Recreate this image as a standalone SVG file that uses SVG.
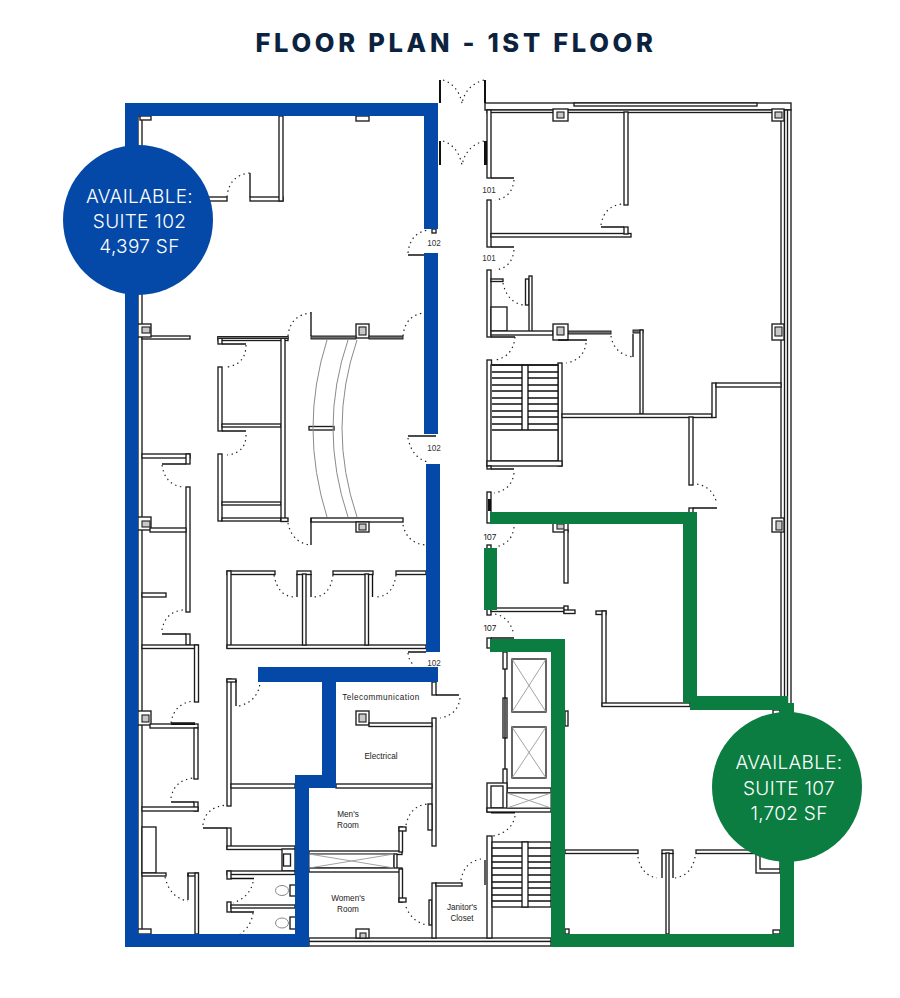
<svg xmlns="http://www.w3.org/2000/svg" width="900" height="998" viewBox="0 0 900 998">
<style>
.w rect{fill:#fff;stroke:#1c1c1c;stroke-width:1.35}
.w rect.i{fill:#c8c8c8;stroke-width:1.1}
.g rect{fill:#6e6e6e;stroke:#222;stroke-width:1}
.l{fill:none;stroke:#111;stroke-width:1.35}
.x{fill:none;stroke:#999;stroke-width:.9}
.c{fill:none;stroke:#8a8a8a;stroke-width:1}
.d{fill:none;stroke:#222;stroke-width:1.2;stroke-dasharray:1.4 3.6}
.k{fill:#111}
.s{fill:#c8c8c8;stroke:#222;stroke-width:1}
.t{font-family:"Liberation Sans",Arial,sans-serif;font-size:8.2px;fill:#333;text-anchor:middle}
.m{fill:#222}
.b{font-family:Inter,"Liberation Sans",sans-serif;font-size:19px;fill:#fff;text-anchor:middle;font-weight:300;letter-spacing:.3px}
.blue{fill:#0549a8}.green{fill:#0b7d41}
</style>
<rect width="900" height="998" fill="#fff"/>
<text x="456" y="52" style="font-family:Inter,'Liberation Sans',sans-serif;font-size:25.5px;font-weight:800;letter-spacing:3.7px;fill:#0c2340;text-anchor:middle">FLOOR PLAN - 1ST FLOOR</text>

<g id="walls-left" class="w">
<rect x="138" y="116" width="4" height="818"/>
<rect x="140" y="116" width="11" height="4"/>
<rect x="208" y="197" width="19" height="4"/>
<rect x="250" y="197" width="33" height="4"/>
<rect x="279" y="116" width="4" height="85"/>
<rect x="356" y="116" width="13" height="5"/>
<rect x="432" y="229" width="4" height="4"/>
<rect x="142" y="336" width="48" height="3"/>
<rect x="138" y="324" width="13" height="13"/>
<rect x="218" y="337" width="70" height="3.500"/>
<rect x="218" y="337" width="4" height="7"/>
<rect x="218" y="367" width="4" height="64"/>
<rect x="218" y="454" width="4" height="67"/>
<rect x="222" y="424" width="59" height="3"/>
<rect x="222" y="502" width="59" height="3"/>
<rect x="222" y="518" width="59" height="3"/>
<rect x="281" y="338" width="4" height="183"/>
<rect x="281" y="518" width="7" height="3.500"/>
<rect x="311" y="518" width="92" height="4"/>
<rect x="356" y="522" width="13" height="10"/>
<rect x="356" y="324" width="13" height="14"/>
<rect x="309" y="426.500" width="25" height="3.500"/>
<rect x="142" y="454" width="48" height="4"/>
<rect x="186" y="454" width="4" height="10"/>
<rect x="186" y="487" width="4" height="125"/>
<rect x="138" y="517" width="13" height="13"/>
<rect x="150" y="528" width="36" height="4"/>
<rect x="142" y="593" width="24" height="4"/>
<rect x="186" y="634" width="4" height="11"/>
<rect x="142" y="645" width="56" height="3.500"/>
<rect x="194.500" y="645" width="4" height="57"/>
<rect x="227" y="571" width="48" height="3.500"/>
<rect x="297" y="571" width="14" height="3.500"/>
<rect x="333" y="571" width="40" height="3.500"/>
<rect x="396" y="571" width="30" height="3.500"/>
<rect x="227" y="571" width="4" height="77"/>
<rect x="227" y="645" width="199" height="3.500"/>
<rect x="302.500" y="574" width="3.500" height="71"/>
<rect x="365" y="574" width="3.500" height="71"/>
<rect x="138" y="711" width="13" height="14"/>
<rect x="150" y="724" width="48" height="4"/>
<rect x="194" y="728" width="4" height="51"/>
<rect x="194" y="802" width="4" height="9"/>
<rect x="142" y="807" width="56" height="4"/>
<rect x="142" y="827" width="14" height="46"/>
<rect x="142" y="873" width="24" height="3"/>
<rect x="188" y="873" width="10" height="3"/>
<rect x="195" y="873" width="3.500" height="61"/>
<rect x="138" y="929" width="13" height="5"/>
<rect x="227" y="679" width="4" height="127"/>
<rect x="227" y="679" width="9" height="3"/>
<rect x="231" y="784" width="64" height="4"/>
<rect x="227" y="828" width="4" height="21"/>
<rect x="227" y="846" width="68" height="3.500"/>
<rect x="282" y="849" width="13" height="22"/>
<rect x="283.500" y="854" width="7" height="12"/>
<rect x="227" y="871" width="68" height="3.500"/>
<rect x="227" y="871" width="4" height="8"/>
<rect x="227" y="902" width="4" height="10"/>
<rect x="231" y="905" width="64" height="3"/>
<rect x="290" y="885" width="6" height="11"/>
<rect x="290" y="917" width="6" height="12"/>
<rect x="432" y="682" width="4" height="13"/>
<rect x="432" y="718" width="4" height="128"/>
<rect x="356" y="711" width="13" height="14"/>
<rect x="369" y="723" width="63" height="3.500"/>
<rect x="336" y="784" width="96" height="4"/>
<rect x="309" y="851" width="93" height="3.500"/>
<rect x="399" y="827" width="3.500" height="25"/>
<rect x="399" y="827" width="7" height="4"/>
<rect x="428" y="804" width="4" height="26"/>
<rect x="309" y="854" width="85" height="14" style="stroke-width:1"/>
<rect x="394" y="854" width="3" height="15"/>
<rect x="309" y="868" width="93" height="4"/>
<rect x="399" y="869" width="3.500" height="33"/>
<rect x="399" y="898" width="7" height="4"/>
<rect x="429" y="900" width="3" height="25"/>
<rect x="309" y="938" width="242" height="3.500"/>
<rect x="309" y="941.500" width="242" height="4.500"/>
<rect x="356" y="929" width="13" height="9"/>
<rect x="432" y="883" width="4" height="55"/>
<rect x="436" y="883" width="26" height="3"/>
<rect x="487" y="836" width="5" height="102"/>
<rect class="i" x="142" y="327" width="8" height="6"/><rect class="i" x="359" y="327" width="7" height="8"/>
<rect class="i" x="359" y="524" width="7" height="6"/>
<rect class="i" x="142" y="521" width="8" height="6"/><rect class="i" x="142" y="715" width="7" height="7"/>
<rect class="i" x="359" y="714" width="7" height="8"/><rect class="i" x="360" y="933" width="6" height="5"/>
</g>
<g id="walls-grey" class="g">
<rect x="311" y="336" width="45" height="3"/>
<rect x="369" y="336" width="34" height="3"/>
<rect x="218" y="336.500" width="70" height="2"/>
<rect x="568" y="331" width="43" height="3"/>
<rect x="633" y="330" width="10" height="3"/>
</g>
<g id="walls-right" class="w">
<rect x="485" y="103" width="306" height="7"/>
<rect x="574" y="103" width="183" height="3"/>
<rect x="487" y="110" width="297" height="2.500"/>
<rect x="781" y="110" width="10" height="594"/>
<rect x="784.500" y="110" width="3" height="594"/>
<rect x="553" y="109" width="15" height="12"/>
<rect x="772" y="109" width="12" height="12"/>
<rect class="i" x="557" y="112" width="7" height="6"/>
<rect class="i" x="775" y="112" width="7" height="6"/>
<rect x="487" y="110" width="4" height="68"/>
<rect x="624" y="112" width="4" height="93"/>
<rect x="487" y="200" width="4" height="47"/>
<rect x="491" y="233.500" width="140" height="3.500"/>
<rect x="624" y="227" width="4" height="7"/>
<rect x="487" y="270" width="4" height="67"/>
<rect x="491" y="279" width="12" height="2.500"/>
<rect x="525.500" y="279" width="3.500" height="26"/>
<rect x="529" y="276" width="3" height="56"/>
<rect x="491" y="307" width="16" height="24"/>
<rect x="491" y="331" width="62" height="4"/>
<rect x="553" y="324" width="15" height="16"/>
<rect class="i" x="557" y="327" width="7" height="8"/>
<rect x="640" y="330" width="3" height="84"/>
<rect x="772" y="324" width="12" height="16"/>
<rect class="i" x="775" y="327" width="7" height="9"/>
<rect x="487" y="360" width="4.500" height="106"/>
<rect x="558" y="363" width="4" height="103"/>
<rect x="491" y="365" width="67" height="96"/>
<rect x="487" y="461" width="75" height="5"/>
<rect x="487" y="466" width="4" height="3"/>
<rect x="562" y="414" width="150" height="3.500"/>
<rect x="712" y="383" width="4" height="34.500"/>
<rect x="716" y="383" width="65" height="4"/>
<rect x="689" y="417" width="4" height="68"/>
<rect x="689" y="508" width="4" height="5"/>
<rect x="487" y="492" width="4" height="31"/>
<rect x="772" y="518" width="12" height="14"/>
<rect class="i" x="776" y="521" width="6" height="9"/>
<rect x="553" y="522" width="15" height="10"/>
<rect x="564" y="530" width="4" height="53"/>
<rect class="i" x="557" y="524" width="7" height="5"/>
<rect x="487" y="545" width="4" height="4"/>
<rect x="487" y="609" width="4" height="6"/>
<rect x="491" y="608" width="74" height="3.500"/>
<rect x="564" y="606" width="4" height="7"/>
<rect x="564" y="610" width="11" height="3.500"/>
<rect x="596" y="611" width="10" height="3.500"/>
<rect x="602" y="611" width="4" height="95"/>
<rect x="602" y="703" width="88" height="3.500"/>
<rect x="487" y="638" width="4" height="10"/>
<rect x="503" y="652" width="4" height="17"/>
<rect x="503" y="698" width="4" height="40"/>
<rect x="503" y="769" width="4" height="20"/>
<rect x="512" y="659" width="34" height="53"/>
<rect x="512" y="727" width="34" height="51"/>
<rect x="507" y="788" width="44" height="5"/>
<rect x="487" y="783" width="20" height="29"/>
<rect x="491" y="786" width="12" height="22"/>
<rect x="487" y="808" width="64" height="4"/>
<rect x="507" y="793" width="44" height="15" style="stroke-width:1"/>
<rect x="492" y="842" width="59" height="65"/>
<rect x="522" y="842" width="6" height="65"/>
<rect x="565" y="711" width="3" height="15"/>
<rect x="565" y="850" width="73" height="3.500"/>
<rect x="662" y="850" width="11" height="3.500"/>
<rect x="696" y="850" width="60" height="3.500"/>
<rect x="666" y="853" width="3" height="81"/>
<rect x="756" y="853" width="24" height="20"/>
<rect x="760" y="853" width="20" height="16"/>
<rect x="565" y="929" width="4" height="5"/>
<rect x="773" y="930" width="7" height="4"/>
<rect x="773" y="710" width="7" height="5"/>
</g>
<g id="lines-and-leaves" class="l">
<path d="M250 173V197M408 255H424M311 312V336M222 344H246M222 431H246M162 464H186M311 518V545M162 634H186M408 436H436M408 652H426M171 723H195M171 802H194M188 873V900M236 680V706M203 828H227M231 878.500H254M231 912H254M436 695H459M485 860V885"/>
<path d="M297 574V597M311 574V597M372.500 574V597"/>
<path d="M491 178H514M601 227H624M491 247H514M491 337H515M633 334V357M558 340H587M491 469H514M693 508H717M505 669V769M662 853V878M673 853V878M491 638H514"/>
<path d="M492 372H522M528 372H558M492 378H522M528 378H558M492 385H522M528 385H558M492 391H522M528 391H558M492 398H522M528 398H558M492 404H522M528 404H558M492 411H522M528 411H558M492 417H522M528 417H558M492 424H522M528 424H558M492 430H558"/>
<path d="M492 365H558M522 365V430M528 365V430"/>
<path d="M492 848H522M528 848H551M492 856H522M528 856H551M492 862H522M528 862H551M492 868H522M528 868H551M492 875H522M528 875H551M492 882H522M528 882H551M492 888H522M528 888H551M492 895H522M528 895H551M492 901H522M528 901H551"/>
</g>
<g id="thick-black" class="k">
<rect x="484" y="141" width="3" height="24"/><rect x="439" y="80" width="2" height="23"/><rect x="484" y="80" width="2" height="23"/>
<rect x="439" y="141" width="2" height="24"/><rect x="488" y="499" width="3" height="12"/>
<rect x="171" y="723.500" width="24" height="1.500"/><rect x="491" y="812" width="24" height="1.500"/>
</g>
<g id="shaft-crosses">
<path class="x" d="M309 854L394 868M309 868L394 854M507 793L551 808M507 808L551 793M512 659L546 712M546 659L512 712M512 727L546 778M546 727L512 778"/>
<path class="c" d="M327 340Q299 428 327 517M348 340Q318 428 348 517M357 340Q327 428 357 517"/>
</g>
<g id="toilets">
<ellipse cx="282" cy="890.500" rx="6.500" ry="5" fill="#fff" stroke="#888"/>
<ellipse cx="282" cy="923" rx="6.500" ry="5" fill="#fff" stroke="#888"/>
</g>
<g id="door-swings" class="d">
<path d="M227 197Q229 175 250 173M408 253Q410 233 428 230M288 336Q290 315 311 313M403 336Q405 316 423 313M246 345Q246 364 227 367M246 435Q246 453 227 455M162 465Q165 485 183 487M288 523Q292 543 311 545M403 525Q407 543 425 545M162 630Q165 612 183 610M274 575Q278 597 295 597M333 575Q330 597 313 597M396 575Q393 597 375 597M408 438Q412 458 428 462M408 653Q409 662 415 666M171 723Q174 703 194 701M171 798Q174 780 194 778M165 877Q170 898 188 901M239 706Q258 701 260 683M203 825Q205 807 227 805M253 882Q250 897 233 903M253 913Q251 927 240 934M460 698Q458 715 440 718M406 825Q410 806 427 804M406 907Q412 922 427 925"/>
<path d="M443 80Q458 85 462 103M484 80Q466 85 462 103M443 141Q458 146 462 165M484 141Q466 146 462 165"/>
<path d="M514 180Q512 198 495 200M601 225Q604 206 622 204M514 250Q512 268 495 270M503 283Q507 302 523 305M515 337Q513 357 495 360M611 336Q614 354 633 357M586 343Q584 360 566 363M514 473Q512 490 494 493M697 484Q713 487 717 504M514 527Q512 544 495 547M495 614Q510 617 514 635M515 816Q512 832 493 836M461 880Q464 862 481 859M638 857Q641 875 657 878M695 857Q692 875 675 878"/>
</g>
<g id="suite-102" class="blue">
<path d="M125 103H438V229H424V116H138V934H295V775H322V682H258V667H438V682H336V788H309V947H125Z"/>
<rect x="424" y="253" width="14" height="181"/>
<rect x="426" y="464" width="14" height="188"/>
<circle cx="138" cy="220" r="75"/>
</g>
<g id="suite-107" class="green">
<path d="M490 512H697V696H788V703H794V947H551V652H490V639H565V934H780V710H690V703H683V524H490Z"/>
<rect x="484" y="548" width="13" height="62"/>
<circle cx="787" cy="787" r="75"/>
</g>
<g id="labels">
<text class="t" x="434" y="246">102</text>
<text class="t" x="434" y="451">102</text>
<text class="t" x="434" y="666">102</text>
<text class="t" x="489" y="193">101</text>
<text class="t" x="489" y="261">101</text>
<text class="t m" x="490" y="540" style="font-family:Inter,sans-serif">107</text>
<text class="t m" x="490" y="631" style="font-family:Inter,sans-serif">107</text>
<text class="t m" x="381" y="700" style="letter-spacing:.45px">Telecommunication</text>
<text class="t m" x="381" y="759">Electrical</text>
<text class="t m" x="348" y="817">Men's</text>
<text class="t m" x="348" y="828">Room</text>
<text class="t m" x="348" y="901">Women's</text>
<text class="t m" x="348" y="912">Room</text>
<text class="t m" x="462" y="910">Janitor's</text>
<text class="t m" x="462" y="921">Closet</text>
<text class="b" x="139.500" y="203">AVAILABLE:</text>
<text class="b" x="139.500" y="228">SUITE 102</text>
<text class="b" x="139.500" y="253">4,397 SF</text>
<text class="b" x="789" y="769">AVAILABLE:</text>
<text class="b" x="789" y="795">SUITE 107</text>
<text class="b" x="789" y="820">1,702 SF</text>
</g>
</svg>
